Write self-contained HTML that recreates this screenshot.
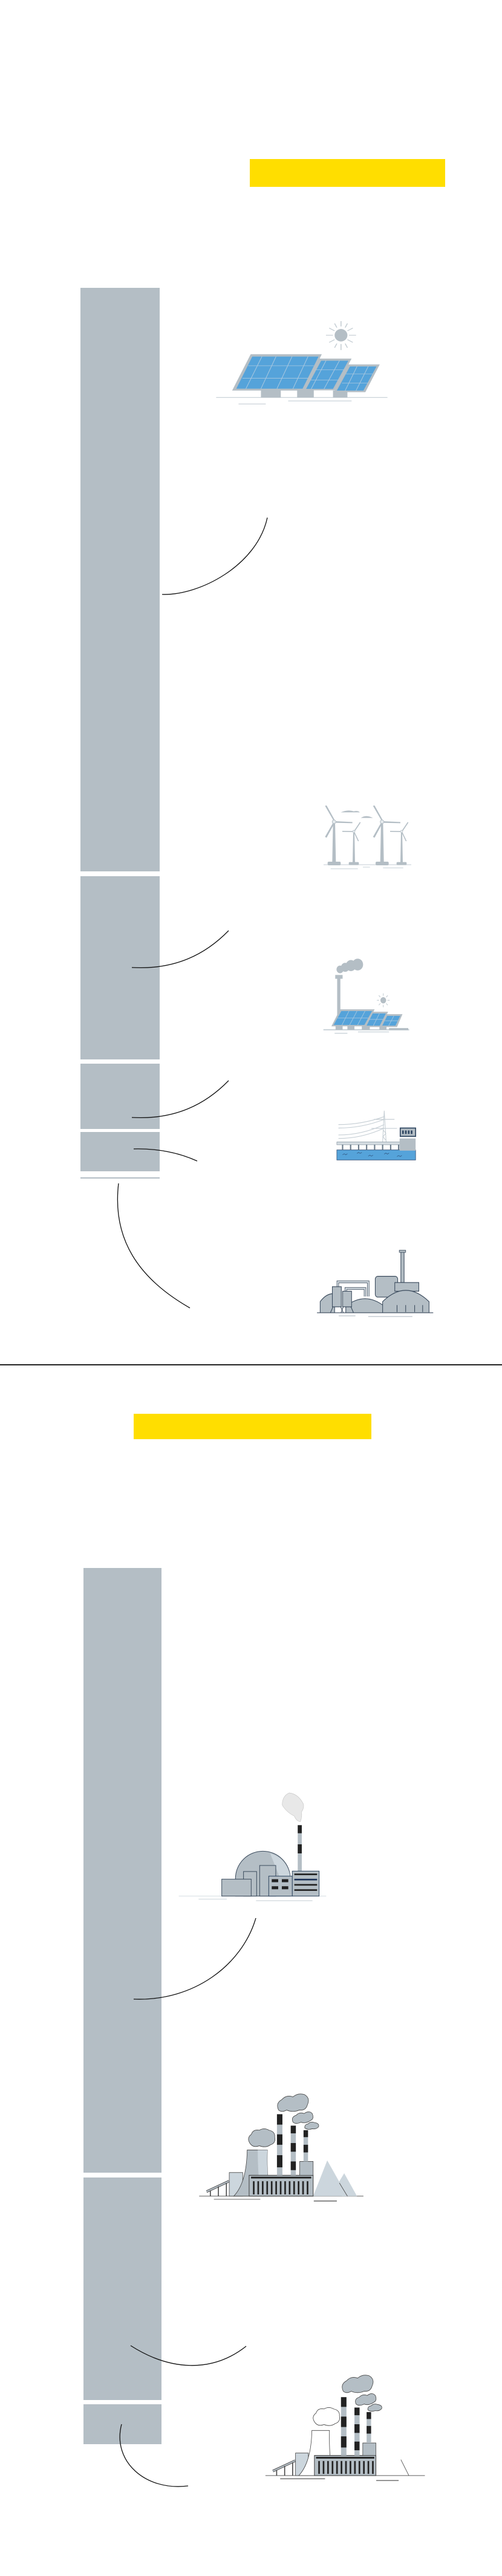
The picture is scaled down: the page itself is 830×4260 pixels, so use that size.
<!DOCTYPE html>
<html><head><meta charset="utf-8"><style>
html,body{margin:0;padding:0;background:#fff;}
svg{display:block;}
</style></head><body>
<svg width="830" height="4260" viewBox="0 0 830 4260" xmlns="http://www.w3.org/2000/svg">
<rect width="830" height="4260" fill="#fff"/>
<!-- Section 1 -->
<rect x="413" y="263" width="323" height="46" fill="#ffde00"/>
<g fill="#b4bec5">
<rect x="133" y="476" width="131" height="965"/>
<rect x="133" y="1449" width="131" height="303"/>
<rect x="133" y="1759" width="131" height="108"/>
<rect x="133" y="1872" width="131" height="65"/>
</g>
<rect x="133" y="1947" width="131" height="2" fill="#b4bec5"/>

<!-- divider -->
<rect x="0" y="2256" width="830" height="2" fill="#222"/>

<!-- Section 2 -->
<rect x="221" y="2338" width="393" height="42" fill="#ffde00"/>
<g fill="#b4bec5">
<rect x="138" y="2593" width="129" height="1000"/>
<rect x="138" y="3601" width="129" height="368"/>
<rect x="138" y="3976" width="129" height="66"/>
</g>

<!-- connectors -->
<g fill="none" stroke="#111" stroke-width="1.3">
<path d="M268,983 C330,985 425,935 442,856"/>
<path d="M218,1600 C290,1604 340,1578 378,1539"/>
<path d="M218,1848 C290,1852 340,1826 378,1787"/>
<path d="M221,1900 C260,1899 295,1906 326,1920"/>
<path d="M196,1957 C185,2050 230,2115 314,2163"/>
<path d="M221,3306 C320,3310 400,3250 423,3172"/>
<path d="M216,3879 C280,3920 350,3925 407,3880"/>
<path d="M201,4009 C185,4070 240,4120 311,4111"/>
</g>

<!-- Solar main (zoom1 coords) -->
<g transform="translate(0,200) scale(0.5294,0.3827)">
<line x1="675" y1="1195" x2="1210" y2="1195" stroke="#c5ced4" stroke-width="3"/>
<line x1="745" y1="1223" x2="830" y2="1223" stroke="#c5ced4" stroke-width="3"/>
<line x1="900" y1="1210" x2="1098" y2="1210" stroke="#d5dde2" stroke-width="4"/>
<g fill="#b4bec5">
<rect x="815" y="1160" width="62" height="35"/>
<rect x="928" y="1160" width="52" height="35"/>
<rect x="1040" y="1165" width="45" height="30"/>
<polygon points="725,1165 783,1008 1005,1008 950,1165"/>
<polygon points="946,1164 998,1027 1098,1027 1046,1164"/>
<polygon points="1043,1172 1088,1052 1186,1052 1141,1172"/>
</g>
<g fill="#55a3da">
<polygon points="738,1157 788,1018 995,1018 945,1157"/>
<polygon points="956,1158 1003,1036 1088,1036 1040,1158"/>
<polygon points="1052,1165 1093,1061 1176,1061 1135,1165"/>
</g>
<g stroke="#a9c8e0" stroke-width="2" fill="none">
<line x1="775" y1="1058" x2="980" y2="1058"/><line x1="757" y1="1112" x2="962" y2="1112"/>
<line x1="818" y1="1018" x2="768" y2="1157"/><line x1="862" y1="1018" x2="815" y2="1157"/><line x1="912" y1="1018" x2="865" y2="1157"/><line x1="962" y1="1018" x2="915" y2="1157"/>
<line x1="985" y1="1075" x2="1075" y2="1075"/><line x1="970" y1="1120" x2="1058" y2="1120"/>
<line x1="1018" y1="1036" x2="972" y2="1158"/><line x1="1060" y1="1036" x2="1012" y2="1158"/>
<line x1="1080" y1="1093" x2="1165" y2="1093"/><line x1="1068" y1="1133" x2="1150" y2="1133"/>
<line x1="1115" y1="1061" x2="1078" y2="1165"/><line x1="1150" y1="1061" x2="1112" y2="1165"/>
</g>
<ellipse cx="1065" cy="926" rx="20" ry="27" fill="#b4bec5"/>
<g stroke="#c5ced4" stroke-width="3">
<line x1="1065" y1="865" x2="1065" y2="888"/><line x1="1065" y1="964" x2="1065" y2="990"/>
<line x1="1018" y1="926" x2="1040" y2="926"/><line x1="1090" y1="926" x2="1112" y2="926"/>
<line x1="1028" y1="895" x2="1045" y2="907"/><line x1="1085" y1="907" x2="1102" y2="895"/>
<line x1="1028" y1="957" x2="1045" y2="945"/><line x1="1085" y1="945" x2="1102" y2="957"/>
<line x1="1045" y1="875" x2="1052" y2="893"/><line x1="1085" y1="875" x2="1078" y2="893"/>
<line x1="1045" y1="980" x2="1052" y2="962"/><line x1="1085" y1="980" x2="1078" y2="962"/>
</g>
</g>

<!-- Wind turbines (zoom7 coords) -->
<g transform="translate(520,1320) scale(0.3333)">
<line x1="45" y1="330" x2="480" y2="330" stroke="#c5ced4" stroke-width="3"/>
<line x1="80" y1="350" x2="215" y2="350" stroke="#d5dde2" stroke-width="4"/>
<line x1="240" y1="342" x2="275" y2="342" stroke="#d5dde2" stroke-width="4"/>
<line x1="340" y1="346" x2="440" y2="346" stroke="#d5dde2" stroke-width="4"/>
<g fill="#b4bec5">
<path d="M130,70 Q165,55 195,65 Q215,60 225,70 Z"/>
<path d="M230,98 Q255,80 290,98 Z"/>
<g>
<polygon points="92,117 102,117 106,318 88,318"/>
<rect x="65" y="315" width="65" height="18" rx="6"/>
<polygon points="95,112 52,38 60,36 101,110"/>
<polygon points="102,114 188,118 188,124 102,122"/>
<polygon points="92,122 52,192 60,196 99,124"/>
<circle cx="97" cy="117" r="9" fill="#e6ebee" stroke="#b4bec5" stroke-width="3"/>
</g>
<g transform="translate(238,0)">
<polygon points="92,117 102,117 106,318 88,318"/>
<rect x="65" y="315" width="65" height="18" rx="6"/>
<polygon points="95,112 52,38 60,36 101,110"/>
<polygon points="102,114 188,118 188,124 102,122"/>
<polygon points="92,122 52,192 60,196 99,124"/>
<circle cx="97" cy="117" r="9" fill="#e6ebee" stroke="#b4bec5" stroke-width="3"/>
</g>
<g>
<polygon points="192,165 198,165 201,320 189,320"/>
<rect x="170" y="317" width="50" height="15" rx="5"/>
<polygon points="197,160 225,118 229,121 201,163"/>
<polygon points="190,163 138,162 138,167 190,168"/>
<polygon points="199,168 220,212 216,214 195,170"/>
<circle cx="195" cy="165" r="6" fill="#e6ebee" stroke="#b4bec5" stroke-width="2"/>
</g>
<g transform="translate(237,0)">
<polygon points="192,165 198,165 201,320 189,320"/>
<rect x="170" y="317" width="50" height="15" rx="5"/>
<polygon points="197,160 225,118 229,121 201,163"/>
<polygon points="190,163 138,162 138,167 190,168"/>
<polygon points="199,168 220,212 216,214 195,170"/>
<circle cx="195" cy="165" r="6" fill="#e6ebee" stroke="#b4bec5" stroke-width="2"/>
</g>
</g>
</g>

<!-- Section-1 lower illustrations (zoom2 coords) -->
<g transform="translate(0,1300) scale(0.5294,0.5741)">
<line x1="1010" y1="702" x2="1278" y2="702" stroke="#c5ced4" stroke-width="3"/>
<line x1="1045" y1="712" x2="1085" y2="712" stroke="#c5ced4" stroke-width="2"/>
<line x1="1118" y1="708" x2="1215" y2="708" stroke="#d5dde2" stroke-width="3"/>
<g fill="#b4bec5">
<rect x="1053" y="550" width="10" height="115"/>
<rect x="1047" y="544" width="23" height="11"/>
<circle cx="1062" cy="528" r="11"/><circle cx="1078" cy="522" r="13"/><circle cx="1096" cy="517" r="16"/><circle cx="1117" cy="514" r="17"/>
<rect x="1048" y="688" width="22" height="14"/><rect x="1085" y="688" width="22" height="14"/><rect x="1130" y="690" width="25" height="12"/><rect x="1185" y="692" width="22" height="10"/><rect x="1215" y="697" width="60" height="6"/>
<polygon points="1035,692 1062,643 1170,643 1142,692"/>
<polygon points="1138,694 1160,650 1212,650 1190,694"/>
<polygon points="1188,694 1205,657 1257,657 1240,694"/>
</g>
<g fill="#55a3da">
<polygon points="1042,688 1066,648 1162,648 1138,688"/>
<polygon points="1145,690 1164,655 1205,655 1186,690"/>
<polygon points="1194,690 1209,662 1250,662 1235,690"/>
</g>
<g stroke="#a9c8e0" stroke-width="1.5">
<line x1="1054" y1="668" x2="1150" y2="668"/><line x1="1154" y1="672" x2="1196" y2="672"/><line x1="1202" y1="676" x2="1243" y2="676"/>
<line x1="1090" y1="648" x2="1068" y2="688"/><line x1="1115" y1="648" x2="1092" y2="688"/><line x1="1140" y1="648" x2="1117" y2="688"/>
<line x1="1185" y1="655" x2="1166" y2="690"/><line x1="1230" y1="662" x2="1214" y2="690"/>
</g>
<circle cx="1197" cy="617" r="9" fill="#b4bec5"/>
<g stroke="#c5ced4" stroke-width="2">
<line x1="1197" y1="597" x2="1197" y2="604"/><line x1="1197" y1="630" x2="1197" y2="637"/>
<line x1="1177" y1="617" x2="1184" y2="617"/><line x1="1210" y1="617" x2="1217" y2="617"/>
<line x1="1183" y1="603" x2="1188" y2="608"/><line x1="1206" y1="626" x2="1211" y2="631"/>
<line x1="1183" y1="631" x2="1188" y2="626"/><line x1="1206" y1="608" x2="1211" y2="603"/>
</g>
<g fill="none" stroke="#c5ced4" stroke-width="2">
<path d="M1057,975 Q1130,975 1200,952"/>
<path d="M1057,985 Q1130,985 1200,960"/>
<path d="M1057,1005 Q1130,1005 1200,975"/>
<path d="M1057,1015 Q1130,1015 1200,985"/>
<path d="M1195,1025 L1200,935 L1206,1025"/>
<line x1="1168" y1="960" x2="1232" y2="960"/><line x1="1160" y1="986" x2="1240" y2="986"/>
<path d="M1196,990 L1205,1000 L1196,1010 L1205,1020"/>
</g>
<rect x="1052" y="1048" width="246" height="29" fill="#55a3da" stroke="#2e4d75" stroke-width="1.5"/>
<rect x="1052" y="1025" width="198" height="8" fill="#d5dde2" stroke="#6b7b8a" stroke-width="1"/>
<g fill="#6b7b8a">
<rect x="1068" y="1033" width="4" height="15"/><rect x="1093" y="1033" width="4" height="15"/><rect x="1118" y="1033" width="4" height="15"/><rect x="1143" y="1033" width="4" height="15"/><rect x="1168" y="1033" width="4" height="15"/><rect x="1193" y="1033" width="4" height="15"/><rect x="1218" y="1033" width="4" height="15"/><rect x="1243" y="1033" width="4" height="15"/>
</g>
<rect x="1248" y="1015" width="50" height="35" fill="#b4bec5"/>
<rect x="1250" y="985" width="48" height="24" fill="#b4bec5" stroke="#2e4560" stroke-width="3"/>
<g fill="#2e4560"><rect x="1256" y="992" width="5" height="10"/><rect x="1265" y="992" width="5" height="10"/><rect x="1274" y="992" width="5" height="10"/><rect x="1283" y="992" width="5" height="10"/></g>
<g stroke="#2e4d75" stroke-width="1.2" fill="none">
<path d="M1070,1062 l5,-3 l5,3 l5,-3"/><path d="M1115,1058 l5,-3 l5,3 l5,-3"/><path d="M1150,1066 l5,-3 l5,3 l5,-3"/><path d="M1200,1060 l5,-3 l5,3 l5,-3"/><path d="M1240,1067 l5,-3 l5,3 l5,-3"/>
</g>
<line x1="990" y1="1517" x2="1353" y2="1517" stroke="#3a4a5c" stroke-width="2"/>
<line x1="1058" y1="1526" x2="1110" y2="1526" stroke="#b4bec5" stroke-width="2"/>
<line x1="1150" y1="1528" x2="1288" y2="1528" stroke="#b4bec5" stroke-width="2"/>
<rect x="1252" y="1340" width="10" height="90" fill="#b4bec5" stroke="#3a4a5c" stroke-width="2"/>
<rect x="1247" y="1337" width="20" height="6" fill="#b4bec5" stroke="#3a4a5c" stroke-width="1.5"/>
<rect x="1172" y="1412" width="70" height="60" rx="8" fill="#b4bec5" stroke="#3a4a5c" stroke-width="2"/>
<rect x="1233" y="1430" width="75" height="25" fill="#b4bec5" stroke="#3a4a5c" stroke-width="2"/>
<path d="M1055,1460 L1055,1428 L1150,1428 L1150,1470" fill="none" stroke="#3a4a5c" stroke-width="7"/>
<path d="M1055,1460 L1055,1428 L1150,1428 L1150,1470" fill="none" stroke="#d5dde2" stroke-width="4"/>
<path d="M1080,1470 L1080,1447 L1140,1447 L1140,1470" fill="none" stroke="#3a4a5c" stroke-width="7"/>
<path d="M1080,1470 L1080,1447 L1140,1447 L1140,1470" fill="none" stroke="#d5dde2" stroke-width="4"/>
<path d="M1000,1517 L1000,1485 Q1020,1460 1045,1462 L1045,1517 Z" fill="#b4bec5" stroke="#3a4a5c" stroke-width="2"/>
<path d="M1080,1517 L1080,1498 Q1140,1455 1200,1498 L1200,1517 Z" fill="#b4bec5" stroke="#3a4a5c" stroke-width="2"/>
<path d="M1195,1517 L1195,1485 Q1267,1420 1340,1485 L1340,1517 Z" fill="#b4bec5" stroke="#3a4a5c" stroke-width="2"/>
<rect x="1038" y="1442" width="28" height="58" fill="#b4bec5" stroke="#3a4a5c" stroke-width="2"/>
<rect x="1070" y="1455" width="28" height="45" fill="#b4bec5" stroke="#3a4a5c" stroke-width="2"/>
<g stroke="#3a4a5c" stroke-width="2"><line x1="1040" y1="1500" x2="1032" y2="1517"/><line x1="1064" y1="1500" x2="1072" y2="1517"/><line x1="1072" y1="1500" x2="1065" y2="1517"/><line x1="1096" y1="1500" x2="1104" y2="1517"/>
<line x1="1240" y1="1495" x2="1240" y2="1515"/><line x1="1267" y1="1495" x2="1267" y2="1515"/><line x1="1295" y1="1495" x2="1295" y2="1515"/><line x1="1320" y1="1495" x2="1320" y2="1515"/></g>
</g>

<!-- Nuclear (zoom6 coords) -->
<g transform="translate(130,2900) scale(0.3333)">
<line x1="497" y1="707" x2="1228" y2="707" stroke="#d5dde2" stroke-width="3"/>
<line x1="595" y1="722" x2="735" y2="722" stroke="#d5dde2" stroke-width="4"/>
<line x1="880" y1="730" x2="1160" y2="730" stroke="#c5ced4" stroke-width="3"/>
<path d="M1045,195 Q1010,210 1010,255 Q1030,290 1070,310 Q1080,335 1100,338 Q1110,310 1105,290 Q1120,270 1115,250 Q1090,200 1045,195 Z" fill="#e8e8e8" stroke="#c8c8c8" stroke-width="2"/>
<path d="M778,707 L778,620 A135,135 0 0 1 1050,620 L1050,707 Z" fill="#b4bec5" stroke="#3a4a5c" stroke-width="3"/>
<path d="M950,495 A135,135 0 0 1 1050,620 L1000,620 Z" fill="#ccd6dd"/>
<rect x="818" y="585" width="65" height="122" fill="#b4bec5" stroke="#3a4a5c" stroke-width="3"/>
<rect x="898" y="555" width="80" height="152" fill="#b4bec5" stroke="#3a4a5c" stroke-width="3"/>
<rect x="710" y="623" width="146" height="84" fill="#b4bec5" stroke="#3a4a5c" stroke-width="3"/>
<rect x="943" y="608" width="117" height="99" fill="#b4bec5" stroke="#2e4560" stroke-width="3"/>
<g fill="#222"><rect x="958" y="623" width="32" height="15"/><rect x="1008" y="623" width="32" height="15"/><rect x="958" y="658" width="32" height="15"/><rect x="1008" y="658" width="32" height="15"/></g>
<rect x="1087" y="355" width="20" height="230" fill="#b4bec5"/>
<rect x="1087" y="355" width="20" height="40" fill="#222"/><rect x="1087" y="450" width="20" height="45" fill="#222"/>
<rect x="1060" y="583" width="133" height="124" fill="#b4bec5" stroke="#2e4560" stroke-width="3"/>
<g fill="#222"><rect x="1070" y="595" width="113" height="8"/><rect x="1070" y="647" width="113" height="8"/><rect x="1070" y="673" width="113" height="8"/></g>
<rect x="1070" y="621" width="113" height="8" fill="#1e3358"/>
</g>

<!-- Coal plants (zoom4 coords) -->
<g transform="translate(0,3300) scale(0.5294,0.5741)">
<g>
<line x1="622" y1="578" x2="1135" y2="578" stroke="#444" stroke-width="1.5"/>
<line x1="668" y1="587" x2="813" y2="587" stroke="#888" stroke-width="2"/>
<line x1="980" y1="592" x2="1052" y2="592" stroke="#444" stroke-width="2"/>
<polygon points="978,578 1022,475 1085,578" fill="#ccd6dd"/>
<polygon points="1050,550 1075,512 1115,578 1068,578" fill="#ccd6dd"/>
<line x1="1060" y1="540" x2="1085" y2="578" stroke="#444" stroke-width="1.5"/>
<line x1="645" y1="565" x2="715" y2="535" stroke="#444" stroke-width="7"/>
<line x1="645" y1="565" x2="715" y2="535" stroke="#b4bec5" stroke-width="4"/>
<g stroke="#444" stroke-width="3"><line x1="657" y1="562" x2="657" y2="578"/><line x1="682" y1="550" x2="682" y2="578"/><line x1="707" y1="540" x2="707" y2="578"/></g>
<rect x="716" y="510" width="42" height="68" fill="#ccd6dd" stroke="#444" stroke-width="1.5"/>
<path d="M730,578 Q770,540 772,445 L835,445 Q832,520 845,578 Z" fill="#b4bec5" stroke="#444" stroke-width="1.5"/>
<path d="M805,445 L835,445 Q832,520 845,578 L815,578 Q805,520 805,445 Z" fill="#ccd6dd"/>
<rect x="778" y="518" width="200" height="60" fill="#b4bec5" stroke="#444" stroke-width="2"/>
<rect x="784" y="522" width="188" height="5" fill="#222"/>
<g fill="#222">
<rect x="790" y="535" width="5" height="38"/><rect x="804" y="535" width="5" height="38"/><rect x="818" y="535" width="5" height="38"/><rect x="832" y="535" width="5" height="38"/><rect x="846" y="535" width="5" height="38"/><rect x="860" y="535" width="5" height="38"/><rect x="874" y="535" width="5" height="38"/><rect x="888" y="535" width="5" height="38"/><rect x="902" y="535" width="5" height="38"/><rect x="916" y="535" width="5" height="38"/><rect x="930" y="535" width="5" height="38"/><rect x="944" y="535" width="5" height="38"/><rect x="958" y="535" width="5" height="38"/>
</g>
<rect x="936" y="478" width="42" height="40" fill="#b4bec5" stroke="#444" stroke-width="1.5"/>
<rect x="865" y="342" width="17" height="176" fill="#b4bec5"/>
<g fill="#222"><rect x="865" y="342" width="17" height="30"/><rect x="865" y="400" width="17" height="30"/><rect x="865" y="460" width="17" height="35"/></g>
<rect x="908" y="375" width="16" height="143" fill="#b4bec5"/>
<g fill="#222"><rect x="908" y="375" width="16" height="22"/><rect x="908" y="425" width="16" height="25"/><rect x="908" y="478" width="16" height="25"/></g>
<rect x="948" y="388" width="14" height="90" fill="#b4bec5"/>
<g fill="#222"><rect x="948" y="388" width="14" height="20"/><rect x="948" y="430" width="14" height="22"/></g>
<g fill="#b4bec5" stroke="#444" stroke-width="1.5">
<path d="M870,330 Q860,310 880,300 Q895,285 915,292 Q930,280 950,285 Q970,295 960,315 Q955,332 935,330 Q915,338 895,330 Q880,338 870,330 Z"/>
<path d="M915,365 Q908,350 925,345 Q935,335 950,340 Q965,330 975,340 Q982,355 970,360 Q955,370 940,365 Q925,372 915,365 Z"/>
<path d="M952,382 Q950,372 962,370 Q970,362 982,366 Q998,368 995,378 Q988,386 975,384 Q962,388 952,382 Z"/>
</g>
<path d="M780,425 Q770,410 785,400 Q790,385 810,388 Q825,380 840,388 Q860,392 858,408 Q862,425 845,430 Q830,440 810,433 Q790,440 780,425 Z" fill="#b4bec5" stroke="#444" stroke-width="1.5"/>
</g>
<g transform="translate(207,805)">
<line x1="622" y1="578" x2="1120" y2="578" stroke="#444" stroke-width="1.5"/>
<line x1="668" y1="587" x2="808" y2="587" stroke="#444" stroke-width="2"/>
<line x1="968" y1="592" x2="1038" y2="592" stroke="#444" stroke-width="2"/>
<line x1="1045" y1="532" x2="1070" y2="578" stroke="#444" stroke-width="1.5"/>
<line x1="645" y1="565" x2="715" y2="535" stroke="#444" stroke-width="7"/>
<line x1="645" y1="565" x2="715" y2="535" stroke="#b4bec5" stroke-width="4"/>
<g stroke="#444" stroke-width="3"><line x1="657" y1="562" x2="657" y2="578"/><line x1="682" y1="550" x2="682" y2="578"/><line x1="707" y1="540" x2="707" y2="578"/></g>
<rect x="716" y="513" width="40" height="65" fill="#ccd6dd" stroke="#444" stroke-width="1.5"/>
<path d="M726,578 Q765,540 767,448 L822,448 Q820,520 832,578 Z" fill="#fff" stroke="#444" stroke-width="1.5"/>
<rect x="775" y="520" width="192" height="58" fill="#b4bec5" stroke="#444" stroke-width="2"/>
<rect x="780" y="524" width="182" height="5" fill="#222"/>
<g fill="#222">
<rect x="787" y="536" width="5" height="37"/><rect x="801" y="536" width="5" height="37"/><rect x="815" y="536" width="5" height="37"/><rect x="829" y="536" width="5" height="37"/><rect x="843" y="536" width="5" height="37"/><rect x="857" y="536" width="5" height="37"/><rect x="871" y="536" width="5" height="37"/><rect x="885" y="536" width="5" height="37"/><rect x="899" y="536" width="5" height="37"/><rect x="913" y="536" width="5" height="37"/><rect x="927" y="536" width="5" height="37"/><rect x="941" y="536" width="5" height="37"/><rect x="955" y="536" width="5" height="37"/>
</g>
<rect x="926" y="484" width="41" height="36" fill="#b4bec5" stroke="#444" stroke-width="1.5"/>
<rect x="858" y="352" width="17" height="168" fill="#b4bec5"/>
<g fill="#222"><rect x="858" y="352" width="17" height="28"/><rect x="858" y="408" width="17" height="30"/><rect x="858" y="465" width="17" height="32"/></g>
<rect x="900" y="382" width="16" height="138" fill="#b4bec5"/>
<g fill="#222"><rect x="900" y="382" width="16" height="22"/><rect x="900" y="430" width="16" height="25"/><rect x="900" y="480" width="16" height="25"/></g>
<rect x="938" y="395" width="14" height="89" fill="#b4bec5"/>
<g fill="#222"><rect x="938" y="395" width="14" height="20"/><rect x="938" y="435" width="14" height="22"/></g>
<g fill="#b4bec5" stroke="#444" stroke-width="1.5">
<path d="M865,335 Q855,315 875,305 Q890,290 910,297 Q925,285 945,290 Q965,300 955,320 Q950,337 930,335 Q910,343 890,335 Q875,343 865,335 Z"/>
<path d="M905,372 Q898,357 915,352 Q925,342 940,347 Q955,337 965,347 Q972,362 960,367 Q945,377 930,372 Q915,379 905,372 Z"/>
<path d="M942,389 Q940,379 952,377 Q960,369 972,373 Q988,375 985,385 Q978,393 965,391 Q952,395 942,389 Z"/>
</g>
<path d="M775,423 Q765,408 780,398 Q785,383 805,386 Q820,378 835,386 Q855,390 853,406 Q857,423 840,428 Q825,438 805,431 Q785,438 775,423 Z" fill="#fff" stroke="#444" stroke-width="1.5"/>
</g>
</g>
</svg>
</body></html>
